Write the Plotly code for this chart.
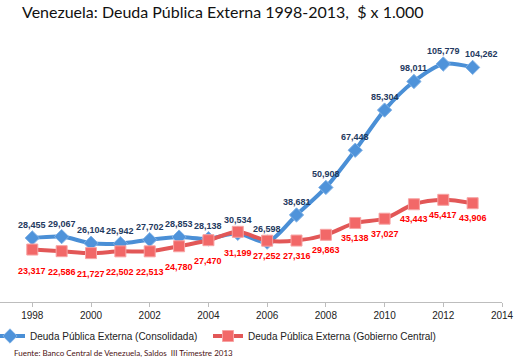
import plotly.graph_objects as go

years = list(range(1998, 2014))
consolidada = [28455, 29067, 26104, 25942, 27702, 28853, 28138, 30534,
               26598, 38681, 50908, 67448, 85304, 98011, 105779, 104262]
gobierno = [23317, 22586, 21727, 22502, 22513, 24780, 27470, 31199,
            27252, 27316, 29863, 35138, 37027, 43443, 45417, 43906]
tick_years = list(range(1998, 2015, 2))

title = "Venezuela: Deuda Pública Externa 1998-2013,  $ x 1.000"
name_blue = "Deuda Pública Externa (Consolidada)"
name_red = "Deuda Pública Externa (Gobierno Central)"
source = "Fuente: Banco Central de Venezuela, Saldos  III Trimestre 2013"

BLUE = "#4a8fd6"
RED = "#e25757"
W, H = 531, 360
ML, MR, MT, MB = 0, 29, 32, 58
PW, PH = W - ML - MR, H - MT - MB


def px_x(px):
    return (px - ML) / PW


def px_y(py):
    return (H - MB - py) / PH


fig = go.Figure()
fig.add_trace(go.Scatter(
    x=years, y=consolidada, name=name_blue, mode="lines+markers",
    line=dict(color=BLUE, width=4, shape="spline", smoothing=0.8),
    marker=dict(symbol="diamond", size=11, color="#4f93da",
                line=dict(color="#7fb1e6", width=1)),
    hoverinfo="skip", legend="legend"))
fig.add_trace(go.Scatter(
    x=years, y=gobierno, name=name_red, mode="lines+markers",
    line=dict(color=RED, width=4, shape="spline", smoothing=0.8),
    marker=dict(symbol="square", size=11, color="#f26868",
                line=dict(color="#f7a3a3", width=1)),
    hoverinfo="skip", legend="legend2"))

annotations = []
for yr, v in zip(years, consolidada):
    annotations.append(dict(
        x=yr, y=v, xref="x", yref="y", text=f"<b>{v:,}</b>", showarrow=False,
        yshift=13, xshift=(9 if yr == 2013 else 0),
        font=dict(family="Liberation Sans, Arial", size=9, color="#1f3a60")))
for yr, v in zip(years, gobierno):
    annotations.append(dict(
        x=yr, y=v, xref="x", yref="y", text=f"<b>{v:,}</b>", showarrow=False,
        yshift=(-21 if yr <= 2005 else -15),
        font=dict(family="Liberation Sans, Arial", size=9, color="#ff0000")))
annotations.append(dict(
    x=px_x(12), y=px_y(353), xref="paper", yref="paper", text=source,
    showarrow=False, xanchor="left", yanchor="middle",
    font=dict(family="Lato, Open Sans", size=8, color="#4b1212")))

legend_font = dict(family="Liberation Sans, Arial", size=10, color="#222222")

fig.update_layout(
    width=W, height=H,
    margin=dict(l=ML, r=MR, t=MT, b=MB, autoexpand=False),
    paper_bgcolor="white", plot_bgcolor="white",
    title=dict(text=title, x=22 / W, xref="container", xanchor="left",
               y=1 - 12 / H, yref="container", yanchor="middle",
               font=dict(family="Lato, Open Sans", size=16, color="#111111")),
    xaxis=dict(range=[1996.9, 2014], tickvals=tick_years, showgrid=False,
               zeroline=False, showline=True, linecolor="#bdbdbd", linewidth=1,
               ticks="outside", ticklen=4, tickcolor="#bdbdbd",
               tickfont=dict(family="Liberation Sans, Arial", size=10, color="#222222")),
    yaxis=dict(range=[0, 120000], visible=False, showgrid=False, zeroline=False),
    legend=dict(orientation="h", xref="paper", yref="paper",
                x=px_x(-10), xanchor="left", y=px_y(336), yanchor="middle",
                font=legend_font, itemwidth=30, bgcolor="rgba(0,0,0,0)"),
    legend2=dict(orientation="h", xref="paper", yref="paper",
                 x=px_x(208), xanchor="left", y=px_y(336), yanchor="middle",
                 font=legend_font, itemwidth=30, bgcolor="rgba(0,0,0,0)"),
    annotations=annotations,
    showlegend=True,
)

fig.write_html("out.html", config={"displayModeBar": False},
               post_script="document.body.style.margin='0';")
